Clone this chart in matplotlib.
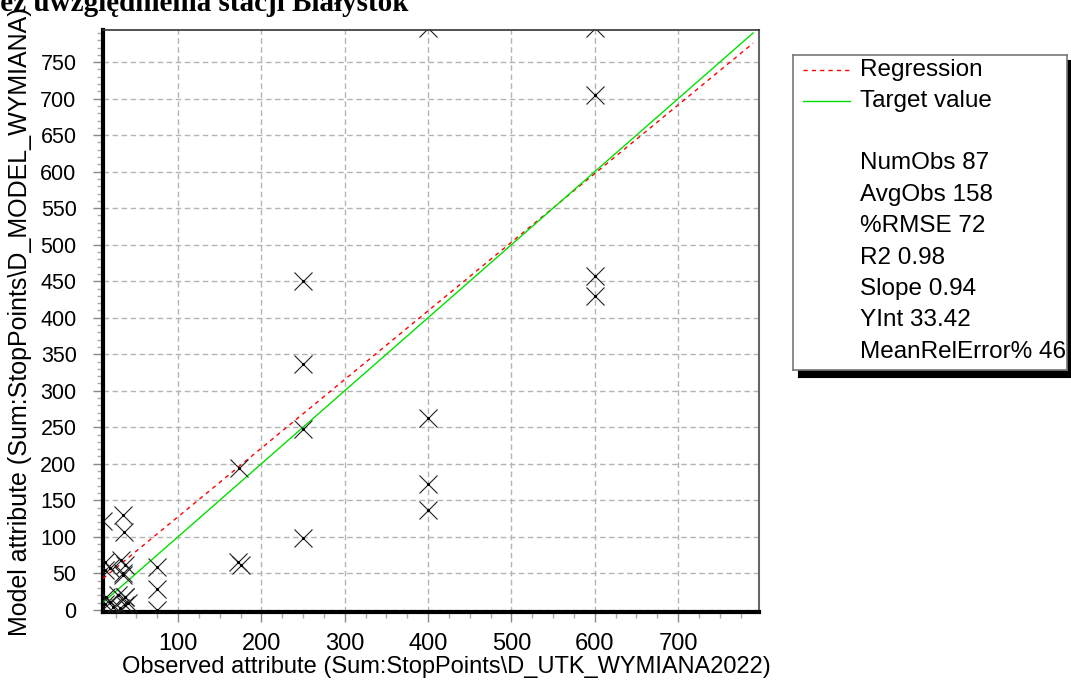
import numpy as np
import matplotlib
matplotlib.use("Agg")
from matplotlib import pyplot as plt
from matplotlib.ticker import MultipleLocator

# observed vs model values
observed = [400, 600, 600, 600, 600, 400, 400, 400,
            250, 250, 250, 250, 173, 172, 176,
            75, 75, 75,
            10, 34, 35, 12, 12, 32, 36, 34, 18, 36, 34,
            18, 14, 36, 36, 22, 40, 28, 12, 30]
modeled = [797, 797, 705, 457, 430, 262, 172, 136,
           450, 337, 247, 99, 194, 66, 62,
           59, 28, 0,
           121, 130, 107, 66, 55, 68, 61, 47, 57, 18, 50,
           11, 18, 6, 18, 4, 10, 20, 8, 2]

slope = 0.94
yint = 33.42
stats = ["NumObs 87", "AvgObs 158", "%RMSE 72", "R2 0.98",
         "Slope 0.94", "YInt 33.42", "MeanRelError% 46"]

x_range = (10, 797)
y_range = (-3, 794)

W, H = 1071, 682
fig = plt.figure(figsize=(W / 100, H / 100), dpi=100)
plt.rcParams['font.family'] = ['Liberation Sans', 'DejaVu Sans']

ax = fig.add_axes([103 / W, 1 - 612 / H, (759 - 103) / W, (612 - 30) / H])
ax.set_xlim(*x_range)
ax.set_ylim(*y_range)

xs = np.array([x_range[0], 790])
ax.plot(xs, slope * xs + yint, color='red', ls=(0, (3, 3)), lw=1.0, zorder=3)
ax.plot(xs, xs, color='#00e000', lw=1.0, zorder=3)
ax.plot(observed, modeled, ls='none', marker='x', ms=13, mew=0.8,
        color='#222222', zorder=4)
ax.plot(observed, modeled, ls='none', marker='.', ms=2.5,
        color='black', zorder=4)

ax.xaxis.set_minor_locator(MultipleLocator(25))
ax.yaxis.set_minor_locator(MultipleLocator(10))
ax.set_xticks(range(100, 800, 100))
ax.set_yticks(range(0, 800, 50))
ax.grid(True, which='major', color='#b4b4b4', ls=(0, (4, 2.5)), lw=1.0)
ax.tick_params(which='major', direction='out', length=7, width=1, color='#888888')
ax.tick_params(which='minor', direction='out', length=4, width=1, color='#aaaaaa')
ax.tick_params(axis='y', labelsize=15.5, pad=12)
ax.tick_params(axis='x', labelsize=17, pad=8)

for s in ('left', 'bottom'):
    ax.spines[s].set_linewidth(3)
    ax.spines[s].set_color('black')
ax.spines['top'].set_linewidth(1.2)
ax.spines['top'].set_color('#333333')
ax.spines['right'].set_linewidth(1.5)
ax.spines['right'].set_color('#666666')

fig.text(446 / W, 1 - 667 / H,
         "Observed attribute (Sum:StopPoints\\D_UTK_WYMIANA2022)",
         fontsize=17, ha='center', va='center')
fig.text(20 / W, 1 - 322 / H, "Model attribute (Sum:StopPoints\\D_MODEL_WYMIANA)",
         rotation=90, fontsize=18, ha='center', va='center')

# title, cut off at the top of the image
fig.text(408 / W, 1 - 11 / H, "bez uwzględnienia stacji Białystok",
         family=['Liberation Serif', 'DejaVu Serif'], weight='bold',
         fontsize=21, ha='right', va='baseline')

# legend box with shadow
shadow = fig.add_axes([798 / W, 1 - 377 / H, 274 / W, 317 / H])
shadow.set_facecolor('black')
shadow.set_xticks([])
shadow.set_yticks([])
leg = fig.add_axes([793 / W, 1 - 370 / H, 274 / W, 315 / H])
leg.set_xlim(0, 274)
leg.set_ylim(315, 0)
leg.set_xticks([])
leg.set_yticks([])
leg.set_facecolor('white')
for s in leg.spines.values():
    s.set_color('#777777')
    s.set_linewidth(1.2)
leg.plot([10, 57], [15, 15], color='red', ls=(0, (3, 3)), lw=1.0)
leg.plot([10, 57], [46, 46], color='#00e000', lw=1.0)
leg.text(67, 15, "Regression", fontsize=17.5, va='center')
leg.text(67, 46, "Target value", fontsize=17.5, va='center')
for i, s in enumerate(stats):
    leg.text(67, 108 + i * 31.5, s, fontsize=17.5, va='center', clip_on=True)

fig.savefig("out.png", dpi=100)
